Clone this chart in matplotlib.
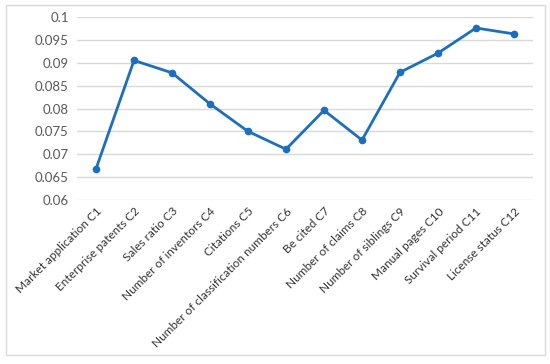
import matplotlib.pyplot as plt
from matplotlib.patches import Rectangle

plt.rcParams['font.family'] = ['Lato', 'DejaVu Sans']

labels = ['Market application C1', 'Enterprise patents C2', 'Sales ratio C3',
          'Number of inventors C4', 'Citations C5', 'Number of classification numbers C6',
          'Be cited C7', 'Number of claims C8', 'Number of siblings C9',
          'Manual pages C10', 'Survival period C11', 'License status C12']
weights = [0.0668, 0.0905, 0.0878, 0.0810, 0.0750, 0.0711,
           0.0796, 0.0731, 0.0879, 0.0921, 0.0976, 0.0963]
yticks = [0.06, 0.065, 0.07, 0.075, 0.08, 0.085, 0.09, 0.095, 0.1]
ytick_labels = ['0.06', '0.065', '0.07', '0.075', '0.08', '0.085', '0.09', '0.095', '0.1']

fig = plt.figure(figsize=(5.5, 3.64), dpi=100)
ax = fig.add_axes([77 / 550, 164 / 364, 456 / 550, 183 / 364])

x = range(len(labels))
ax.plot(x, weights, color='#1c6ebf', lw=2.0, marker='o', markersize=4.5, zorder=3)

ax.set_xlim(-0.5, len(labels) - 0.5)
ax.set_ylim(0.06, 0.1)
ax.set_yticks(yticks)
ax.set_yticklabels(ytick_labels, fontsize=9.5, color='#595959')
ax.set_xticks(list(x))
ax.set_xticklabels(labels, rotation=45, ha='right', rotation_mode='anchor',
                   fontsize=8.5, color='#333333')
ax.tick_params(length=0, pad=6)
ax.tick_params(axis='x', pad=4)
ax.grid(axis='y', color='#d9d9d9', lw=1)
ax.set_axisbelow(True)
for s in ax.spines.values():
    s.set_visible(False)

# chart border
fig.patches.append(Rectangle((6 / 550, 9 / 364), 539 / 550, 350 / 364,
                             transform=fig.transFigure, fill=False,
                             edgecolor='#d9d9d9', lw=1))

fig.savefig('out.png', dpi=100)
